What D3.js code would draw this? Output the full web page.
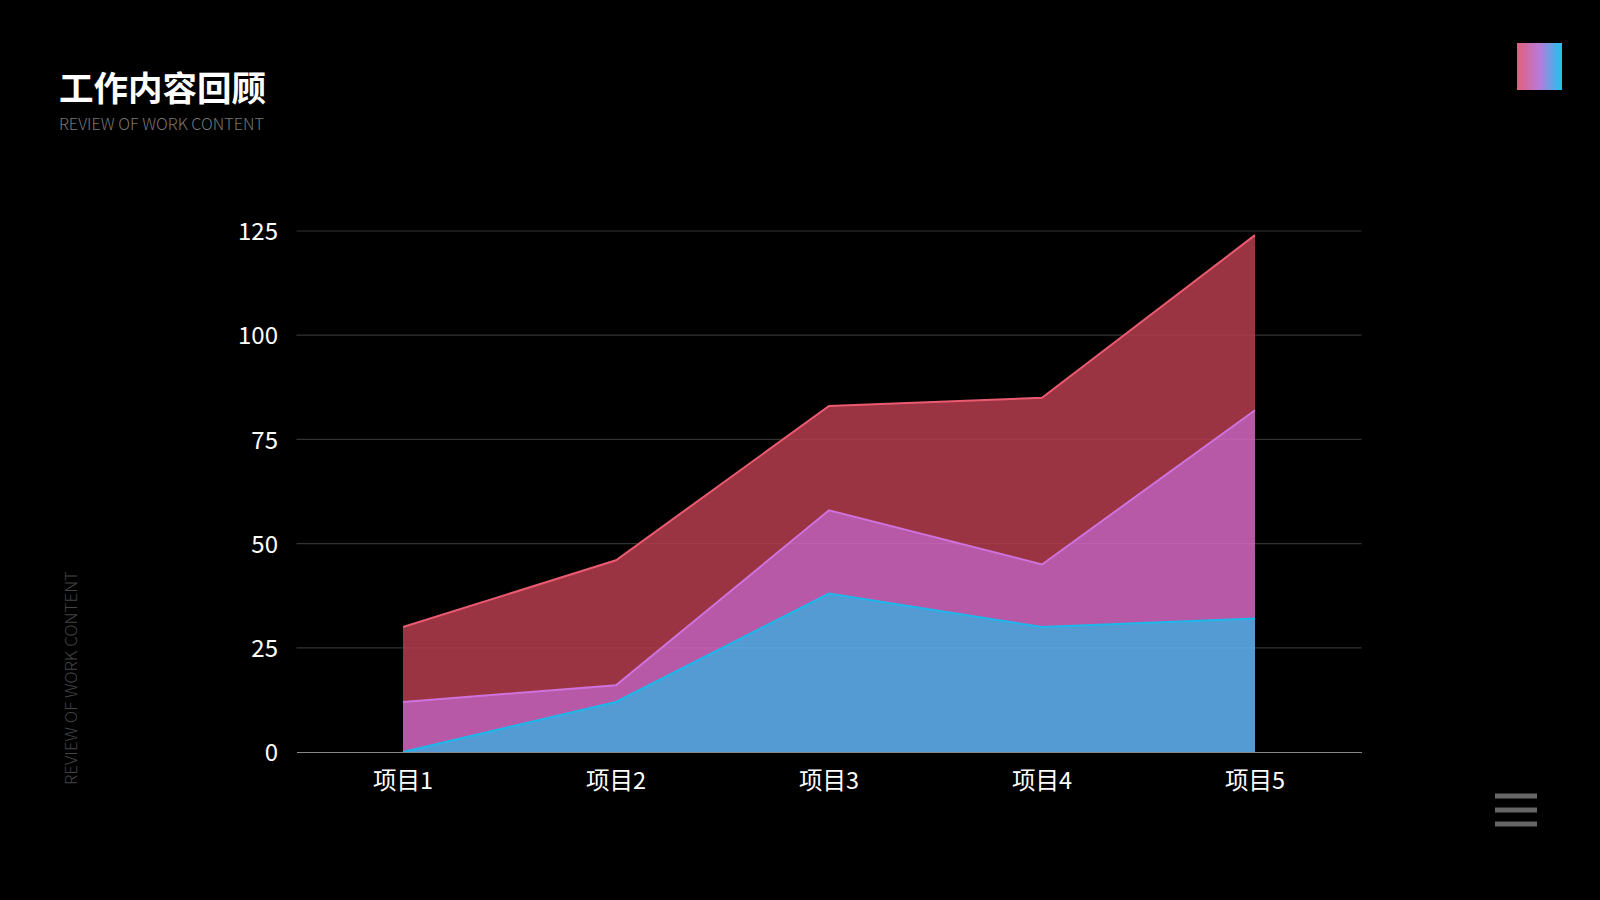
<!DOCTYPE html>
<html>
<head>
<meta charset="utf-8">
<script src="https://cdn.jsdelivr.net/npm/d3@7"></script>
<style>
  html, body { margin: 0; padding: 0; background: #000; }
  svg { display: block; }
</style>
</head>
<body>
<div id="chart"></div>
<script>
// chart data
const categories = ['项目1', '项目2', '项目3', '项目4', '项目5'];
const seriesNames = ['蓝', '紫', '红'];
const blueValues = [0, 12, 38, 30, 32];
const pinkValues = [12, 4, 20, 15, 50];
const redValues = [18, 30, 25, 40, 42];
const yTicks = [0, 25, 50, 75, 100, 125];

const W = 1600, H = 900;
const font = '"Noto Sans CJK SC", "Noto Sans", sans-serif';

const svg = d3.select('#chart')
  .append('svg')
  .attr('width', W)
  .attr('height', H)
  .style('background', '#000');

const defs = svg.append('defs');
const grad = defs.append('linearGradient').attr('id', 'sq');
grad.append('stop').attr('offset', '0%').attr('stop-color', '#e2607a');
grad.append('stop').attr('offset', '50%').attr('stop-color', '#b97ad9');
grad.append('stop').attr('offset', '100%').attr('stop-color', '#1ec3f0');

// header
svg.append('text')
  .attr('x', 59).attr('y', 101)
  .attr('font-family', font).attr('font-weight', 'bold')
  .attr('font-size', 34.5).attr('fill', '#fff')
  .text('工作内容回顾');

svg.append('text')
  .attr('x', 59).attr('y', 130)
  .attr('font-family', font).attr('font-weight', 300)
  .attr('font-size', 16.5).attr('fill', '#777')
  .attr('textLength', 205)
  .attr('lengthAdjust', 'spacingAndGlyphs')
  .text('REVIEW OF WORK CONTENT');

svg.append('text')
  .attr('transform', 'translate(77,785) rotate(-90)')
  .attr('font-family', font).attr('font-weight', 300)
  .attr('font-size', 16).attr('fill', '#444')
  .attr('textLength', 214)
  .attr('lengthAdjust', 'spacingAndGlyphs')
  .text('REVIEW OF WORK CONTENT');

svg.append('rect')
  .attr('x', 1517).attr('y', 43).attr('width', 45).attr('height', 47)
  .attr('fill', 'url(#sq)');

// menu icon
svg.append('g').selectAll('rect')
  .data([796, 810, 824])
  .join('rect')
  .attr('x', 1495).attr('y', d => d - 2.5)
  .attr('width', 42).attr('height', 5)
  .attr('fill', '#666');

// scales
const x = d3.scaleBand().domain(categories).range([296.5, 1361.5]);
const y = d3.scaleLinear().domain([0, 125]).range([752, 231]);
const cx = d => x(d) + x.bandwidth() / 2;

// grid
svg.append('g').selectAll('line')
  .data(yTicks.filter(t => t > 0))
  .join('line')
  .attr('x1', 296.5).attr('x2', 1361.5)
  .attr('y1', d => y(d)).attr('y2', d => y(d))
  .attr('stroke', '#333').attr('stroke-width', 1.2);

// stacked areas
const rows = categories.map((c, i) => ({
  cat: c, '蓝': blueValues[i], '紫': pinkValues[i], '红': redValues[i]
}));
const stacked = d3.stack().keys(seriesNames)(rows);

const fills = ['rgb(99,181,248)', 'rgb(215,104,195)', 'rgb(182,61,78)'];
const strokes = ['#1db8ea', '#cf72de', '#ec5a70'];

const area = d3.area()
  .x(d => cx(d.data.cat))
  .y0(d => y(d[0]))
  .y1(d => y(d[1]));
const line = d3.line()
  .x(d => cx(d.data.cat))
  .y(d => y(d[1]));

svg.append('g').selectAll('path')
  .data(stacked)
  .join('path')
  .attr('d', area)
  .attr('fill', (d, i) => fills[i])
  .attr('fill-opacity', 0.85);

svg.append('g').selectAll('path')
  .data(stacked)
  .join('path')
  .attr('d', line)
  .attr('fill', 'none')
  .attr('stroke', (d, i) => strokes[i])
  .attr('stroke-width', 2);

// x axis
const xAxis = svg.append('g')
  .attr('transform', `translate(0,${y(0)})`)
  .call(d3.axisBottom(x).tickSize(0).tickPadding(20));
xAxis.select('.domain').attr('stroke', '#888').attr('stroke-width', 1.2);
xAxis.selectAll('text')
  .attr('font-family', font).attr('font-size', 23.5).attr('fill', '#fff');

// y axis
const yAxis = svg.append('g')
  .attr('transform', 'translate(278,1)')
  .call(d3.axisLeft(y).tickValues(yTicks).tickSize(0).tickPadding(0));
yAxis.select('.domain').remove();
yAxis.selectAll('text')
  .attr('font-family', font).attr('font-size', 24).attr('fill', '#fff');
</script>
</body>
</html>
